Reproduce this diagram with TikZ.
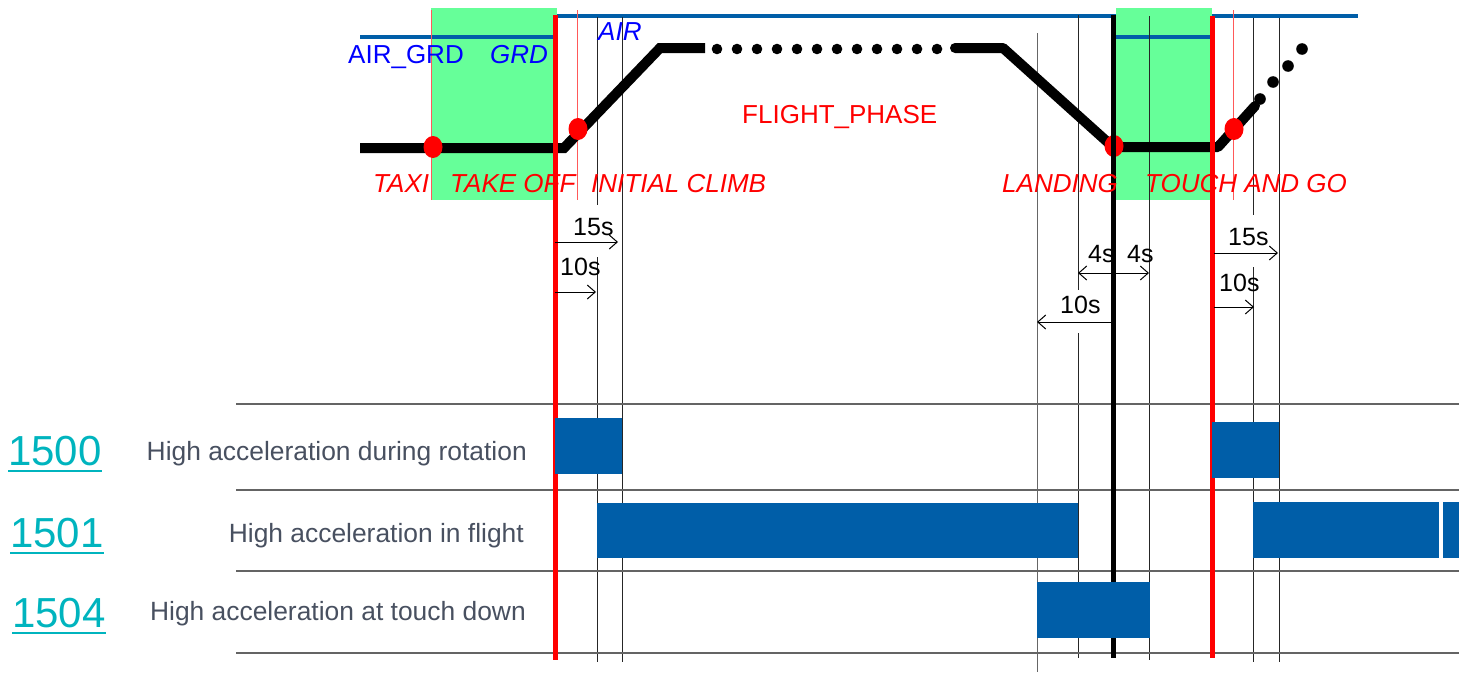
\documentclass[tikz,border=0pt]{standalone}
\usepackage{fontspec}
\setmainfont{Liberation Sans}
\usetikzlibrary{arrows.meta}

\definecolor{barblue}{RGB}{0,94,168}
\definecolor{zonegreen}{RGB}{102,255,153}
\definecolor{numteal}{RGB}{0,180,190}
\definecolor{txtgray}{RGB}{72,80,96}
\definecolor{rowgray}{RGB}{100,100,100}

\begin{document}
\begin{tikzpicture}[x=1pt, y=-1pt,
    zonebox/.style={fill=zonegreen, draw=none},
    modeline/.style={draw=barblue, line width=4pt},
    redmark/.style={draw=red!65, line width=1pt},
    tickline/.style={draw=black!85, line width=1pt},
    rowline/.style={draw=rowgray, line width=1.6pt},
    flightline/.style={draw=black, line width=10pt},
    fdot/.style={fill=black, draw=none},
    rdot/.style={fill=red, draw=none},
    blockbar/.style={fill=barblue, draw=none},
    phaselbl/.style={font=\fontsize{26}{30}\selectfont\itshape, text=red, inner sep=0pt, anchor=base west},
    modelbl/.style={font=\fontsize{26}{30}\selectfont, text=blue, inner sep=0pt, anchor=base west},
    durlbl/.style={font=\fontsize{25}{30}\selectfont, inner sep=0pt, anchor=base west},
    arr/.style={-{Straight Barb[length=8pt,width=14pt]}, line width=1pt},
    numlbl/.style={font=\fontsize{42}{48}\selectfont, text=numteal, inner sep=0pt, anchor=base west},
    numline/.style={draw=numteal, line width=2.5pt},
    desclbl/.style={font=\fontsize{26.4}{30}\selectfont, text=txtgray, inner sep=0pt, anchor=base east}
]
\useasboundingbox (0,0) rectangle (1459,672);

% air / ground mode lines and ground zones
\draw[modeline] (555,16) -- (1116,16);
\draw[modeline] (1212,16) -- (1358,16);
\fill[zonebox] (431,8) rectangle (557,200);
\fill[zonebox] (1116,8) rectangle (1212,200);
\draw[modeline] (360,37) -- (555,37);
\draw[modeline] (1116,37) -- (1210,37);

% thin event marks
\draw[redmark] (431,10) -- (431,200);
\draw[redmark] (577,10) -- (577,200);
\draw[redmark] (1233,10) -- (1233,200);
\draw[tickline] (597,17) -- (597,205) (597,257) -- (597,662);
\draw[tickline] (622,17) -- (622,662);
\draw[tickline, black!60] (1037,33) -- (1037,672);
\draw[tickline] (1078,15) -- (1078,290) (1078,333) -- (1078,658);
\draw[tickline] (1149,16) -- (1149,660);
\draw[tickline] (1253,18) -- (1253,215) (1253,267) -- (1253,662);
\draw[tickline] (1279,18) -- (1279,662);

% table rows
\foreach \y in {404,490,571,653}
  \draw[rowline] (236,\y) -- (1459,\y);

% flight profile
\draw[flightline, line join=miter] (360,148) -- (564,148) -- (660,48) -- (705,48);
\foreach \i in {0,...,11}
  \fill[fdot] (717+20*\i,49) circle (5.3);
\draw[flightline, line cap=round, line join=round] (955,48) -- (1003,48) -- (1113,147) -- (1218,147) -- (1255,106);
\foreach \p in {(1260,99),(1273,82),(1288,66),(1302,49)}
  \fill[fdot] \p circle (5.8);
\fill[rdot] (433,147) ellipse (9.5 and 11);
\fill[rdot] (578,129) ellipse (9.5 and 11);
\fill[rdot] (1114,146) ellipse (9.5 and 11);
\fill[rdot] (1234,129) ellipse (9.5 and 11);

% main transitions
\draw[red, line width=5pt] (555,15) -- (555,660);
\draw[red, line width=5pt] (1212,16) -- (1212,658);
\draw[black, line width=5pt] (1113,15) -- (1113,658);

% labels top
\node[modelbl] (airgrd) at (348,63) {AIR\_GRD};
\node[modelbl, font=\fontsize{26}{30}\selectfont\itshape] (grd) at (490,63) {GRD};
\node[modelbl, font=\fontsize{26}{30}\selectfont\itshape] (air) at (598,40) {AIR};
\node[phaselbl, font=\fontsize{26}{30}\selectfont] (fphase) at (742,123) {FLIGHT\_PHASE};
\node[phaselbl] (taxi) at (373,192) {TAXI};
\node[phaselbl] (tkoff) at (450,192) {TAKE OFF};
\node[phaselbl] (iclimb) at (591,192) {INITIAL CLIMB};
\node[phaselbl] (landing) at (1002,192) {LANDING};
\node[phaselbl] (tgo) at (1145,192) {TOUCH AND GO};

% durations
\coordinate (a15s) at (555,242);  \coordinate (a15e) at (618,242);
\coordinate (a10s) at (555,292);  \coordinate (a10e) at (596,292);
\coordinate (b4s)  at (1078,273); \coordinate (b4e)  at (1149,273);
\coordinate (b10s) at (1113,322); \coordinate (b10e) at (1037,322);
\coordinate (c15s) at (1214,253); \coordinate (c15e) at (1278,253);
\coordinate (c10s) at (1214,307); \coordinate (c10e) at (1254,307);
\draw[arr] (a15s) -- (a15e);
\draw[arr] (a10s) -- (a10e);
\draw[arr, {Straight Barb[length=8pt,width=14pt]}-{Straight Barb[length=8pt,width=14pt]}] (b4s) -- (b4e);
\draw[arr] (b10s) -- (b10e);
\draw[arr] (c15s) -- (c15e);
\draw[arr] (c10s) -- (c10e);
\node[durlbl] (l15a) at (573,235) {15s};
\node[durlbl] (l10a) at (560,275) {10s};
\node[durlbl] (l4a)  at (1088,262) {4s};
\node[durlbl] (l4b)  at (1127,262) {4s};
\node[durlbl] (l10b) at (1060,313) {10s};
\node[durlbl] (l15c) at (1228,245) {15s};
\node[durlbl] (l10c) at (1219,291) {10s};

% event bars
\fill[blockbar] (555,418) rectangle (622,474);
\fill[blockbar] (1212,422) rectangle (1279,478);
\fill[blockbar] (597,503) rectangle (1078,558);
\fill[blockbar] (1253,502) rectangle (1439,558);
\fill[blockbar] (1443,502) rectangle (1459,558);
\fill[blockbar] (1037,582) rectangle (1150,638);

% event names
\node[numlbl] (n1500) at (8,465) {1500};
\node[numlbl] (n1501) at (10,547) {1501};
\node[numlbl] (n1504) at (12,627) {1504};
\draw[numline] ([yshift=-6pt]n1500.base west) -- ([yshift=-6pt]n1500.base east);
\draw[numline] ([yshift=-6pt]n1501.base west) -- ([yshift=-6pt]n1501.base east);
\draw[numline] ([yshift=-6pt]n1504.base west) -- ([yshift=-6pt]n1504.base east);
\node[desclbl] (d1500) at (527,460) {High acceleration during rotation};
\node[desclbl] (d1501) at (524,542) {High acceleration in flight};
\node[desclbl] (d1504) at (526,620) {High acceleration at touch down};
\end{tikzpicture}
\end{document}
